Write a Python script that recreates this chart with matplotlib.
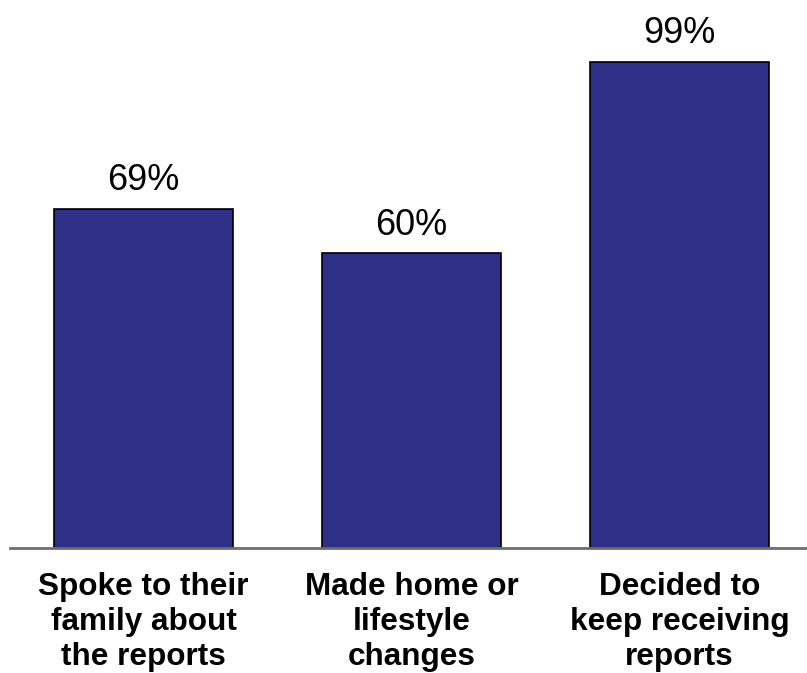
import numpy as np
import matplotlib.pyplot as plt

plt.rcParams['font.family'] = ['Liberation Sans', 'DejaVu Sans']

categories = ['Spoke to their\nfamily about\nthe reports',
              'Made home or\nlifestyle\nchanges',
              'Decided to\nkeep receiving\nreports']
values = [69, 60, 99]
labels = ['69%', '60%', '99%']

fig = plt.figure(figsize=(8.07, 6.73), dpi=100)
ax = fig.add_axes([10 / 807, 125 / 673, 797 / 807, 548 / 673])

x = np.arange(len(categories))
ax.bar(x, values, width=0.67, color='#2e3087', edgecolor='black', linewidth=1.2, zorder=2)

for xi, v, t in zip(x, values, labels):
    ax.annotate(t, (xi, v), xytext=(0, 13.5), textcoords='offset points',
                ha='center', va='baseline', fontsize=26)

ax.set_xlim(-0.498, 2.476)
ax.set_ylim(0, 111.6)
ax.set_xticks(x)
ax.set_xticklabels(categories, fontsize=22.7, fontweight='bold', linespacing=1.2)
ax.tick_params(axis='x', length=0, pad=17.5)
ax.set_yticks([])
for s in ['top', 'right', 'left']:
    ax.spines[s].set_visible(False)
ax.spines['bottom'].set_color('#6e6e6e')
ax.spines['bottom'].set_linewidth(2)
ax.patch.set_alpha(0)

fig.savefig('out.png', dpi=100)
